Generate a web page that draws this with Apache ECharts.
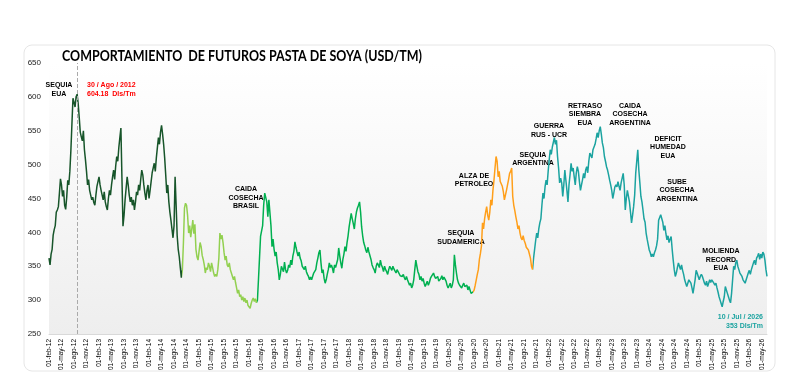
<!DOCTYPE html>
<html>
<head>
<meta charset="utf-8">
<script src="https://cdn.jsdelivr.net/npm/echarts@6/dist/echarts.min.js"></script>
</head>
<body style="margin:0;background:#fff;">
<div id="main" style="width:800px;height:380px;"></div>
<script type="text/javascript">
// precio semanal aprox (4 por mes), USD/TM
var v2012 = [362,352,368,375, 396,404,410,430, 433,438,458,479, 470,453,462,440, 434,452,477,470, 490,521,560,598, 592,585,600,604, 590,570,548,541, 535,550,522,507, 490,470,478,462, 455,448,452,444];
var v2013 = [440,455,468,475, 482,470,462,455, 448,460,445,438, 433,450,462,455, 470,482,492,478, 498,512,505,525, 540,554,480,409, 425,448,465,482, 470,455,445,452, 440,448,433,445, 460,455,470,462, 478,492,485,470];
var v2014 = [458,448,462,470, 450,462,475,488, 495,502,490,510, 525,540,530,548, 558,545,530,510, 485,458,470,445, 430,418,405,392, 410,482,440,395, 375,364,348,333, 345,385,436,443, 440,425,399,410, 393,405,418,398];
var v2015 = [412,375,364,359, 372,385,379,366, 360,352,340,348, 345,355,350,342, 355,348,340,335, 338,335,345,362, 399,390,396,385, 370,359,365,352, 349,355,345,340, 338,330,335,326, 318,310,315,305, 308,300,305,298];
var v2016 = [303,296,300,292, 290,288,295,300, 303,298,302,296, 300,330,362,394, 394,410,440,458, 460,445,423,448, 448,410,379,390, 375,365,371,355, 345,330,338,350, 350,342,356,345, 340,344,352,348, 359,352,365,372];
var v2017 = [386,378,371,365, 371,362,358,350, 352,345,350,342, 338,335,330,334, 330,332,340,338, 345,355,362,370, 374,355,340,345, 332,325,330,338, 345,355,348,352, 347,340,352,348, 347,360,377,365, 355,347,360,368];
var v2018 = [379,372,385,395, 408,418,428,420, 413,405,420,430, 436,440,445,430, 408,395,385,380, 374,370,378,371, 371,360,352,348, 345,340,350,355, 352,348,359,352, 348,342,350,345, 342,338,345,350, 348,344,350,346];
var v2019 = [344,340,345,342, 340,336,338,335, 338,333,330,335, 330,326,322,325, 318,322,330,345, 359,350,342,338, 330,335,328,332, 325,320,324,328, 322,326,332,335, 335,340,335,332, 330,335,328,330, 332,336,330,334];
var v2020 = [333,328,322,318, 320,325,318,322, 330,367,352,340, 330,325,322,320, 318,322,325,320, 318,322,315,320, 318,310,308,312, 315,322,330,338, 345,360,369,380, 414,405,420,430, 438,425,418,430, 448,440,462,477];
var v2021 = [495,512,505,482, 490,475,473,468, 460,448,455,462, 470,478,487,490, 495,453,440,432, 423,415,405,410, 399,392,389,395, 388,384,378,380, 374,368,362,350, 345,362,375,388, 399,392,405,414, 420,440,458,450];
var v2022 = [467,477,470,490, 507,522,515,526, 526,540,530,536, 512,495,473,480, 473,453,470,492, 477,462,445,470, 485,502,490,495, 482,470,488,497, 490,475,462,470, 478,487,480,492, 497,488,505,517, 517,510,522,526];
var v2023 = [530,538,547,540, 550,556,545,532, 525,512,505,497, 492,485,477,470, 462,450,458,467, 470,467,475,468, 462,473,480,487, 470,433,450,462, 462,445,430,414, 425,438,455,487, 505,522,492,473, 453,445,433,420];
var v2024 = [415,399,390,382, 374,370,364,368, 364,370,374,380, 390,418,422,426, 426,415,403,410, 398,389,395,385, 390,394,375,359, 345,335,340,348, 355,350,345,352, 344,338,330,325, 320,325,330,328, 325,318,310,320];
var v2025 = [330,344,340,335, 330,335,338,335, 330,325,322,328, 320,325,330,326, 330,328,325,322, 325,318,312,305, 300,295,290,298, 305,320,315,310, 305,300,296,310, 330,350,345,355, 359,350,345,340, 338,335,330,328];
var v2026 = [325,330,335,340, 344,338,345,350, 355,359,352,362, 365,369,360,368, 362,371,368,359, 345,335];

var meses = ['ene','feb','mar','abr','may','jun','jul','ago','sep','oct','nov','dic'];
var dias = ['01','08','16','23'];

var precios = [].concat(v2012, v2013, v2014, v2015, v2016, v2017, v2018, v2019, v2020, v2021, v2022, v2023, v2024, v2025, v2026);

var fechas = [];
for (var i = 0; i < precios.length; i++) {
    var m = 1 + Math.floor(i / 4);
    fechas.push(dias[i % 4] + '-' + meses[m % 12] + '-' + (12 + Math.floor(m / 12)));
}

var pico = precios.indexOf(Math.max.apply(null, precios));

var notas = [
    { t: 'SEQUIA\nEUA', x: 59, y: 89.5 },
    { t: 'CAIDA\nCOSECHA\nBRASIL', x: 246, y: 198 },
    { t: 'SEQUIA\nSUDAMERICA', x: 461, y: 237.5 },
    { t: 'ALZA DE\nPETROLEO', x: 474, y: 180 },
    { t: 'SEQUIA\nARGENTINA', x: 533, y: 159 },
    { t: 'GUERRA\nRUS - UCR', x: 549, y: 130.5 },
    { t: 'RETRASO\nSIEMBRA\nEUA', x: 585, y: 114.5 },
    { t: 'CAIDA\nCOSECHA\nARGENTINA', x: 630, y: 114.5 },
    { t: 'DEFICIT\nHUMEDAD\nEUA', x: 668, y: 147.5 },
    { t: 'SUBE\nCOSECHA\nARGENTINA', x: 677, y: 190.5 },
    { t: 'MOLIENDA\nRECORD\nEUA', x: 721, y: 260 }
];

var graficos = [{
    type: 'rect',
    shape: { x: 24, y: 45, width: 751, height: 326, r: 8 },
    style: { fill: 'none', stroke: '#e6e6e6', lineWidth: 1 },
    z: -1
}, {
    // titulo angosto tipo Calibri
    type: 'text',
    x: 62, y: 56, scaleX: 0.86,
    style: {
        text: 'COMPORTAMIENTO  DE FUTUROS PASTA DE SOYA (USD/TM)', x: 0, y: 0,
        textAlign: 'left', textVerticalAlign: 'middle',
        font: 'bold 14.5px Lato', fill: '#000'
    }
}];
notas.forEach(function (n) {
    graficos.push({
        type: 'text',
        style: {
            text: n.t, x: n.x, y: n.y, textAlign: 'center', textVerticalAlign: 'middle',
            font: 'bold 7px "Liberation Sans", Arial', fill: '#000', lineHeight: 8.5
        }
    });
});
graficos.push({
    type: 'text',
    style: {
        text: '30 / Ago / 2012\n604.18  Dls/Tm', x: 87, y: 89.5, textAlign: 'left', textVerticalAlign: 'middle',
        font: 'bold 7px "Liberation Sans", Arial', fill: '#ff0000', lineHeight: 9
    }
});
graficos.push({
    type: 'text',
    style: {
        text: '10 / Jul / 2026\n353 Dls/Tm', x: 763, y: 322, textAlign: 'right', textVerticalAlign: 'middle',
        font: 'bold 7px "Liberation Sans", Arial', fill: '#1ba3a0', lineHeight: 9
    }
});

var myChart = echarts.init(document.getElementById('main'));
var option = {
    animation: false,
    backgroundColor: '#fff',
    grid: {
        left: 49, right: 33, top: 63, bottom: 46,
        show: true,
        borderWidth: 0,
        backgroundColor: new echarts.graphic.LinearGradient(0, 0, 0, 1, [
            { offset: 0, color: '#ffffff' },
            { offset: 1, color: '#eeeeee' }
        ])
    },
    xAxis: {
        type: 'category',
        data: fechas,
        boundaryGap: false,
        axisLine: { lineStyle: { color: '#d9d9d9' } },
        axisTick: { show: false },
        axisLabel: {
            interval: 11, rotate: 90, fontSize: 6.5, margin: 5,
            color: '#000', fontFamily: 'Liberation Sans'
        },
        splitLine: { show: false }
    },
    yAxis: {
        type: 'value',
        min: 250, max: 650, interval: 50,
        axisLine: { show: false },
        axisTick: { show: false },
        splitLine: { show: false },
        axisLabel: { fontSize: 8, color: '#222', margin: 8, fontFamily: 'Liberation Sans' }
    },
    visualMap: {
        show: false,
        type: 'piecewise',
        dimension: 0,
        seriesIndex: 0,
        pieces: [
            { lt: 128, color: '#17552a' },
            { gte: 128, lt: 200, color: '#92d050' },
            { gte: 200, lt: 407, color: '#00b050' },
            { gte: 407, lt: 464, color: '#ff9f1a' },
            { gte: 464, color: '#1ba3a0' }
        ]
    },
    series: [{
        type: 'line',
        data: precios,
        symbol: 'none',
        lineStyle: { width: 1.5 },
        markLine: {
            silent: true,
            symbol: 'none',
            label: { show: false },
            lineStyle: { type: 'dashed', color: '#aaa', width: 1 },
            data: [{ xAxis: fechas[pico] }]
        }
    }],
    graphic: graficos
};
myChart.setOption(option);
</script>
</body>
</html>
